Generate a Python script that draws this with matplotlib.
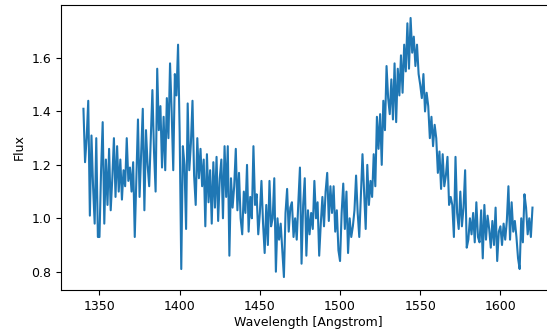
"""Quasar-style spectrum: flux vs wavelength, one noisy line."""

import numpy as np
import matplotlib
matplotlib.use("Agg")
import matplotlib.pyplot as plt

# wavelength grid start/step (Angstrom) and the flux
WAVE_START = 1340
WAVE_STEP = 1

FLUX = [
    # 1340-1349
    1.41, 1.21, 1.30, 1.44, 1.01, 1.31, 1.12, 0.98, 1.30, 0.93,
    # 1350-1359
    0.93, 1.18, 1.36, 0.98, 1.22, 1.05, 1.26, 1.03, 1.15, 1.30,
    # 1360-1369
    1.08, 1.27, 1.10, 1.22, 1.07, 1.18, 1.12, 1.30, 1.14, 1.19,
    # 1370-1379
    1.10, 1.21, 0.93, 1.15, 1.37, 1.08, 1.25, 1.41, 1.03, 1.33,
    # 1380-1389
    1.20, 1.12, 1.30, 1.48, 1.25, 1.10, 1.56, 1.33, 1.42, 1.19,
    # 1390-1399
    1.38, 1.18, 1.45, 1.30, 1.58, 1.40, 1.18, 1.54, 1.46, 1.65,
    # 1400-1409
    1.32, 0.81, 1.27, 1.20, 0.96, 1.43, 1.18, 1.28, 1.44, 1.16,
    # 1410-1419
    1.05, 1.30, 1.15, 1.26, 1.12, 1.22, 0.97, 1.24, 1.06, 1.18,
    # 1420-1429
    0.98, 1.21, 1.04, 1.23, 0.99, 1.15, 1.22, 1.00, 1.27, 1.08,
    # 1430-1439
    1.27, 0.86, 1.15, 1.04, 1.12, 1.26, 1.03, 1.17, 1.00, 0.94,
    # 1440-1449
    1.10, 1.02, 1.20, 0.95, 1.08, 1.00, 1.27, 1.05, 1.09, 0.94,
    # 1450-1459
    1.02, 1.14, 0.98, 0.87, 1.05, 0.90, 1.14, 0.97, 1.00, 1.15,
    # 1460-1469
    0.80, 1.00, 0.92, 0.98, 0.88, 0.78, 1.02, 1.11, 0.95, 1.04,
    # 1470-1479
    1.06, 0.93, 1.00, 0.92, 1.06, 1.19, 0.83, 1.05, 1.15, 0.86,
    # 1480-1489
    1.03, 0.94, 1.02, 0.96, 1.14, 1.00, 1.06, 0.86, 0.98, 1.08,
    # 1490-1499
    0.97, 1.10, 1.17, 0.99, 1.12, 1.02, 1.12, 0.95, 1.03, 0.88,
    # 1500-1509
    0.84, 1.02, 1.13, 0.96, 1.10, 0.87, 1.00, 0.93, 0.97, 1.03,
    # 1510-1519
    1.16, 1.02, 0.93, 1.08, 1.24, 1.10, 0.96, 1.20, 1.05, 1.14,
    # 1520-1529
    1.08, 1.24, 1.12, 1.38, 1.26, 1.39, 1.20, 1.44, 1.33, 1.57,
    # 1530-1539
    1.45, 1.39, 1.52, 1.37, 1.58, 1.36, 1.56, 1.46, 1.61, 1.47,
    # 1540-1549
    1.65, 1.55, 1.73, 1.56, 1.75, 1.62, 1.68, 1.57, 1.65, 1.54,
    # 1550-1559
    1.50, 1.45, 1.54, 1.40, 1.47, 1.42, 1.30, 1.38, 1.27, 1.35,
    # 1560-1569
    1.30, 1.17, 1.25, 1.11, 1.24, 1.12, 1.16, 1.23, 1.05, 1.08,
    # 1570-1579
    1.05, 0.93, 1.23, 1.02, 0.96, 1.10, 0.97, 1.04, 1.18, 0.89,
    # 1580-1589
    0.92, 1.00, 0.94, 1.02, 0.91, 1.06, 0.93, 0.91, 1.03, 0.85,
    # 1590-1599
    1.05, 0.92, 1.01, 0.96, 0.89, 0.99, 0.90, 1.04, 0.84, 0.95,
    # 1600-1609
    0.97, 0.90, 0.98, 0.92, 0.99, 1.12, 0.92, 1.06, 0.95, 0.99,
    # 1610-1620
    0.93, 0.85, 0.81, 1.00, 0.91, 1.09, 1.04, 0.94, 1.00, 0.93, 1.04,
]

wave = WAVE_START + WAVE_STEP * np.arange(len(FLUX))

fig = plt.figure(figsize=(5.47, 3.34), dpi=100)
# right spine sits just past the edge of the saved picture, as in the original
ax = fig.add_axes([0.1115, 0.1317, 0.903, 0.8533])
ax.plot(wave, FLUX, color="#1f77b4", lw=1.5)

ax.set_xlabel("Wavelength [Angstrom]", fontsize=9, labelpad=2)
ax.set_ylabel("Flux", fontsize=9)
ax.tick_params(labelsize=9, length=3.5)
ax.set_yticks([0.8, 1.0, 1.2, 1.4, 1.6])

fig.savefig("out.png", dpi=100)
